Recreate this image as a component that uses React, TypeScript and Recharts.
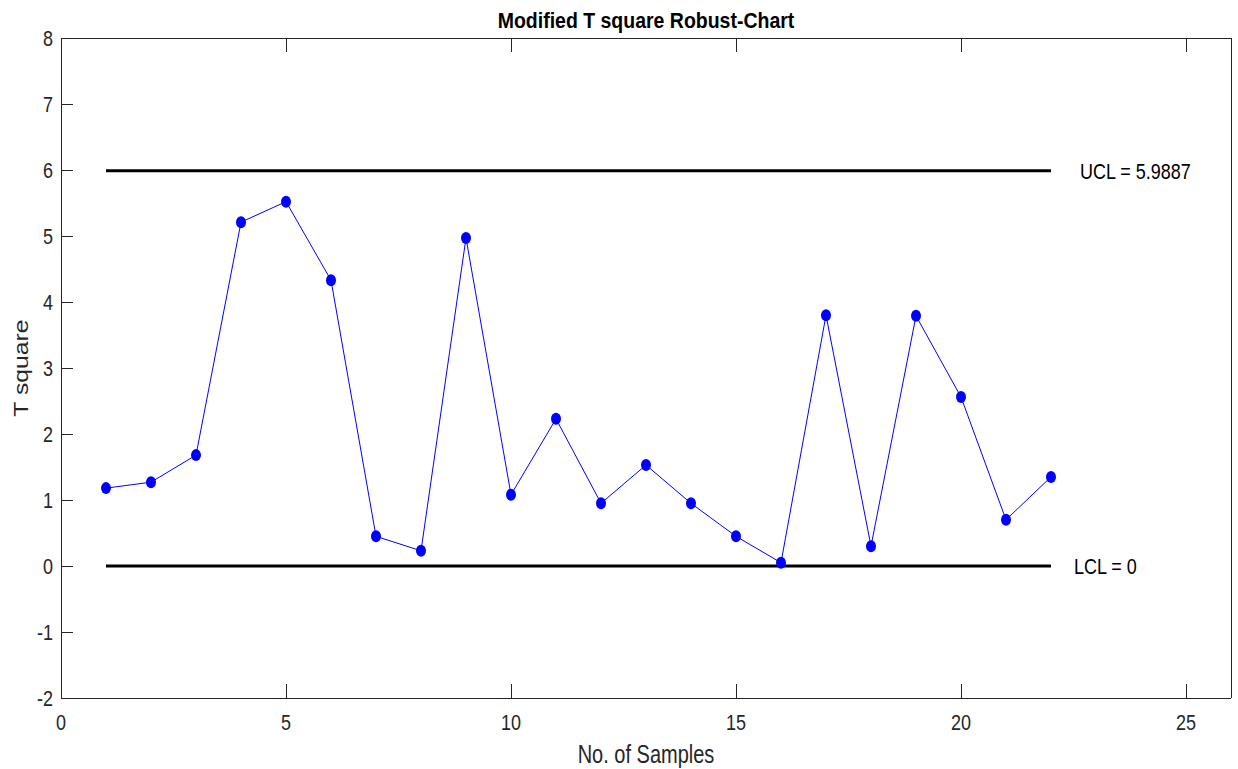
import React from 'react'
import { LineChart, Line, XAxis, YAxis, ReferenceLine } from 'recharts'

const samples = [1, 2, 3, 4, 5, 6, 7, 8, 9, 10, 11, 12, 13, 14, 15, 16, 17, 18, 19, 20, 21, 22]
const tSquare = [1.18, 1.27, 1.68, 5.21, 5.52, 4.33, 0.45, 0.23, 4.97, 1.08, 2.23, 0.95, 1.53, 0.95, 0.45, 0.05, 3.8, 0.3, 3.79, 2.56, 0.7, 1.35]
const UCL = 5.9887
const LCL = 0
const xTicks = [0, 5, 10, 15, 20, 25]
const yTicks = [-2, -1, 0, 1, 2, 3, 4, 5, 6, 7, 8]

const W = 1238
const H = 769
// axes get 1px of size each (a 0px axis is not drawn), so margins are 1px smaller
const M = { top: 37, right: 6, bottom: 0, left: 60 }
const X_AXIS_H = 71
const PLOT_LEFT = M.left + 1
const PLOT_RIGHT = W - M.right - 1
const PLOT_TOP = M.top + 1
const PLOT_BOTTOM = H - X_AXIS_H
const PLOT_CX = (PLOT_LEFT + PLOT_RIGHT) / 2
const PLOT_CY = (PLOT_TOP + PLOT_BOTTOM) / 2

const INK = '#262626'
const FONT = "'Liberation Sans', Arial, sans-serif"
// the original figure is a bit stretched vertically, so text is squeezed a little
const STRETCH = 1.2
const frame = { stroke: INK, strokeWidth: 1, shapeRendering: 'crispEdges' }

const data = samples.map((s, i) => ({ sample: s, t2: tSquare[i] }))

const LeftTick = (props: any) => {
  const { y, payload } = props
  const x = PLOT_LEFT
  return (
    <g>
      <line x1={x} x2={x + 12} y1={y} y2={y} {...frame} />
      <text
        transform={`translate(${x - 8},${y}) scale(1,${STRETCH})`}
        textAnchor="end"
        dy="0.36em"
        fontSize={18}
        fontFamily={FONT}
        fill={INK}
      >
        {payload.value}
      </text>
    </g>
  )
}

const RightTick = (props: any) => {
  const { y } = props
  const x = PLOT_RIGHT
  return <line x1={x - 12} x2={x} y1={y} y2={y} {...frame} />
}

const BottomTick = (props: any) => {
  const { x, payload } = props
  const y = PLOT_BOTTOM
  return (
    <g>
      <line x1={x} x2={x} y1={y} y2={y - 14} {...frame} />
      <text
        transform={`translate(${x},${y + 32}) scale(1,${STRETCH})`}
        textAnchor="middle"
        fontSize={18}
        fontFamily={FONT}
        fill={INK}
      >
        {payload.value}
      </text>
    </g>
  )
}

const TopTick = (props: any) => {
  const { x } = props
  const y = PLOT_TOP
  return <line x1={x} x2={x} y1={y} y2={y + 14} {...frame} />
}

const XTitle = () => (
  <text
    transform={`translate(${PLOT_CX},${H - 6}) scale(1,1.3)`}
    textAnchor="middle"
    fontSize={20}
    fontFamily={FONT}
    fill={INK}
  >
    No. of Samples
  </text>
)

const YTitle = () => (
  <text
    transform={`translate(28,${PLOT_CY}) rotate(-90) scale(1.18,1)`}
    textAnchor="middle"
    fontSize={21}
    fontFamily={FONT}
    fill={INK}
  >
    T square
  </text>
)

const ChartTitle = () => (
  <text
    transform={`translate(${PLOT_CX},28) scale(1,1.15)`}
    textAnchor="middle"
    fontSize={19.5}
    fontWeight="bold"
    fontFamily={FONT}
    fill="#000"
  >
    Modified T square Robust-Chart
  </text>
)

const LimitLabel = (props: any) => {
  const { viewBox, text, gap } = props
  const x = viewBox.x + viewBox.width + gap
  return (
    <text
      transform={`translate(${x},${viewBox.y}) scale(1,${STRETCH})`}
      textAnchor="start"
      dy="0.36em"
      fontSize={18}
      fontFamily={FONT}
      fill="#000"
    >
      {text}
    </text>
  )
}

const Dot = (props: any) => {
  const { cx, cy, index } = props
  if (cx == null || cy == null) return <g key={index} />
  return <ellipse key={index} cx={cx} cy={cy} rx={5} ry={6} fill="#0000ff" />
}

export default function App() {
  return (
    <div style={{ position: 'absolute', left: 0, top: 0, width: W, height: H, background: '#fff' }}>
      <LineChart width={W} height={H} data={data} margin={M}>
        <XAxis
          dataKey="sample"
          type="number"
          domain={[0, 26]}
          ticks={xTicks}
          interval={0}
          height={X_AXIS_H}
          tickSize={0}
          tickMargin={0}
          tick={BottomTick}
          axisLine={frame}
          label={<XTitle />}
        />
        <XAxis
          xAxisId="top"
          orientation="top"
          dataKey="sample"
          type="number"
          domain={[0, 26]}
          ticks={xTicks}
          interval={0}
          height={1}
          tickSize={0}
          tickMargin={0}
          tick={TopTick}
          axisLine={frame}
          label={<ChartTitle />}
        />
        <YAxis
          type="number"
          domain={[-2, 8]}
          ticks={yTicks}
          interval={0}
          width={1}
          tickSize={0}
          tickMargin={0}
          tick={LeftTick}
          axisLine={frame}
          label={<YTitle />}
        />
        <YAxis
          yAxisId="right"
          orientation="right"
          type="number"
          domain={[-2, 8]}
          ticks={yTicks}
          interval={0}
          width={1}
          tickSize={0}
          tickMargin={0}
          tick={RightTick}
          axisLine={frame}
        />
        <ReferenceLine
          segment={[{ x: samples[0], y: UCL }, { x: samples[samples.length - 1], y: UCL }]}
          stroke="#000"
          strokeWidth={3}
          label={<LimitLabel text={`UCL = ${UCL}`} gap={29} />}
        />
        <ReferenceLine
          segment={[{ x: samples[0], y: LCL }, { x: samples[samples.length - 1], y: LCL }]}
          stroke="#000"
          strokeWidth={3}
          label={<LimitLabel text={`LCL = ${LCL}`} gap={23} />}
        />
        <Line
          type="linear"
          dataKey="t2"
          stroke="#0000ff"
          strokeWidth={1}
          dot={Dot}
          activeDot={false}
          isAnimationActive={false}
        />
      </LineChart>
    </div>
  )
}
